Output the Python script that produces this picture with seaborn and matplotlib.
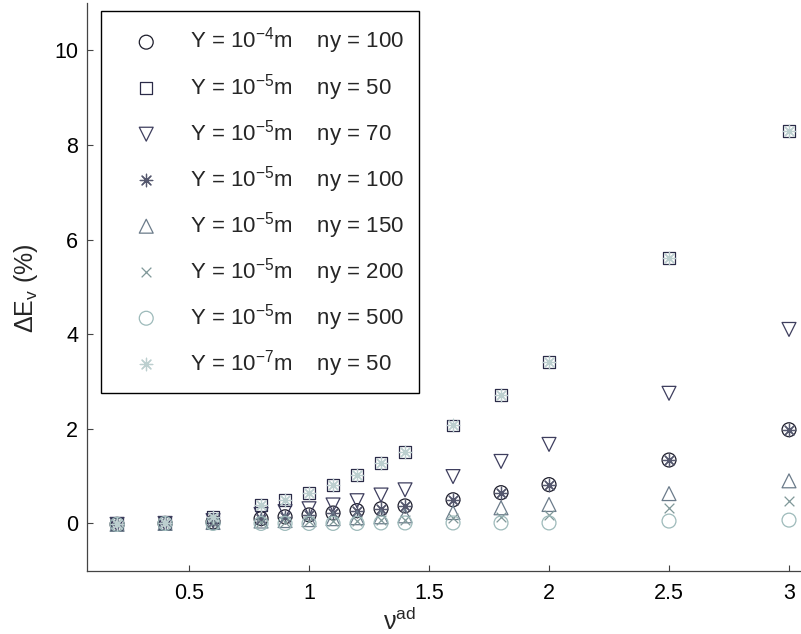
import numpy as np
import pandas as pd
import matplotlib
matplotlib.use("Agg")
import matplotlib.pyplot as plt
import seaborn as sns

sns.set_style("ticks")
plt.rcParams['font.family'] = ['Liberation Sans', 'DejaVu Sans']
plt.rcParams['mathtext.default'] = 'regular'

nu = [0.2, 0.4, 0.6, 0.8, 0.9, 1.0, 1.1, 1.2, 1.3, 1.4, 1.6, 1.8, 2.0, 2.5, 3.0]

y4_ny100 = [-0.02, 0.0, 0.03, 0.10, 0.14, 0.18, 0.22, 0.27, 0.31, 0.37, 0.50, 0.65, 0.82, 1.34, 1.98]
y5_ny50 = [-0.02, 0.0, 0.14, 0.39, 0.49, 0.65, 0.82, 1.03, 1.27, 1.51, 2.07, 2.71, 3.42, 5.60, 8.29]
y5_ny70 = [-0.02, 0.0, 0.06, 0.19, 0.25, 0.31, 0.39, 0.48, 0.60, 0.71, 0.99, 1.31, 1.67, 2.75, 4.10]
y5_ny100 = [-0.02, 0.0, 0.03, 0.10, 0.14, 0.18, 0.22, 0.27, 0.31, 0.37, 0.50, 0.65, 0.82, 1.34, 1.98]
y5_ny150 = [-0.02, 0.0, 0.02, 0.05, 0.06, 0.08, 0.10, 0.12, 0.14, 0.16, 0.23, 0.33, 0.40, 0.63, 0.90]
y5_ny200 = [-0.02, 0.0, 0.01, 0.03, 0.04, 0.05, 0.05, 0.06, 0.07, 0.08, 0.11, 0.14, 0.17, 0.33, 0.47]
y5_ny500 = [-0.02, 0.0, 0.0, 0.0, 0.0, 0.0, 0.0, 0.0, 0.01, 0.01, 0.01, 0.01, 0.01, 0.05, 0.07]
y7_ny50 = [-0.02, 0.0, 0.14, 0.39, 0.49, 0.65, 0.82, 1.03, 1.27, 1.51, 2.07, 2.71, 3.42, 5.60, 8.29]

labels = [
    r'Y = 10$^{-4}$m    ny = 100',
    r'Y = 10$^{-5}$m    ny = 50',
    r'Y = 10$^{-5}$m    ny = 70',
    r'Y = 10$^{-5}$m    ny = 100',
    r'Y = 10$^{-5}$m    ny = 150',
    r'Y = 10$^{-5}$m    ny = 200',
    r'Y = 10$^{-5}$m    ny = 500',
    r'Y = 10$^{-7}$m    ny = 50',
]
series = [y4_ny100, y5_ny50, y5_ny70, y5_ny100, y5_ny150, y5_ny200, y5_ny500, y7_ny50]
markers = ['o', 's', 'v', (8, 2, 0), '^', 'x', 'o', (8, 2, 0)]
sizes = [10, 8.6, 10, 9, 10, 7, 10, 9]
colors = ['#1c1c2a', '#2b2b48', '#3e3e5e', '#55586e', '#6b7b8a', '#809899', '#9dbaba', '#bccfcf']

xticks = [0.5, 1, 1.5, 2, 2.5, 3]
xticklabels = ['0.5', '1', '1.5', '2', '2.5', '3']
yticks = [0, 2, 4, 6, 8, 10]

fig = plt.figure(figsize=(8.01, 6.34), dpi=100)
ax = fig.add_axes([0.109, 0.0998, 0.891, 0.8955])

for yv, lab, m, ms, c in zip(series, labels, markers, sizes, colors):
    df = pd.DataFrame({'nu': nu, 'dE': yv})
    filled = m in ('o', 's', 'v', '^')
    if filled:
        kw = dict(facecolors='none', edgecolors=c)
    else:
        kw = dict(color=c)
    sns.scatterplot(data=df, x='nu', y='dE', marker=m, s=ms ** 2,
                    linewidths=0.9, label=lab, ax=ax, zorder=3, **kw)

ax.set_xlim(0.076, 3.05)
ax.set_ylim(-1, 11)
ax.set_xticks(xticks)
ax.set_xticklabels(xticklabels)
ax.set_yticks(yticks)
ax.set_yticklabels([str(t) for t in yticks])
ax.tick_params(direction='in', length=4.5, width=0.8, colors='#444444',
               labelcolor='black', labelsize=15.5)
ax.tick_params(axis='x', pad=9)
ax.tick_params(axis='y', pad=6.5)
for sp in ['top', 'right']:
    ax.spines[sp].set_visible(False)
for sp in ['left', 'bottom']:
    ax.spines[sp].set_color('#444444')
    ax.spines[sp].set_linewidth(0.9)

ax.set_xlabel('ν$^{ad}$', fontsize=18)
ax.xaxis.set_label_coords(0.437, -0.066)
ax.set_ylabel('ΔE$_v$ (%)', fontsize=18)
ax.yaxis.set_label_coords(-0.066, 0.497)

leg = ax.legend(loc='upper left', bbox_to_anchor=(0.0192, 0.986), borderaxespad=0,
                fontsize=16, frameon=True, fancybox=False, framealpha=1,
                edgecolor='black', labelspacing=0.68, handletextpad=0.6,
                borderpad=0.66, handlelength=2.75)
leg.get_frame().set_linewidth(1.0)

fig.savefig('out.png', dpi=100)
